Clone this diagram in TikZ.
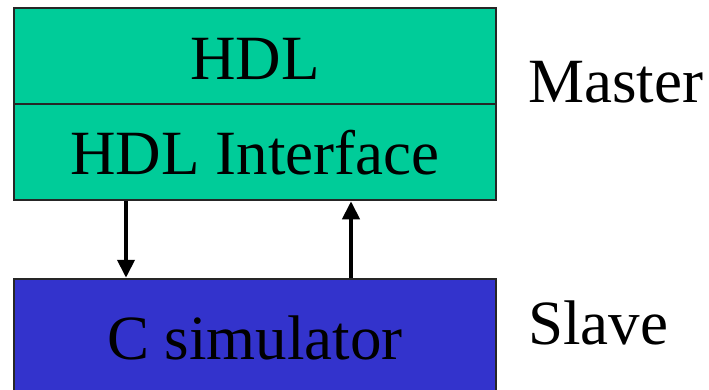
\documentclass[tikz,border=0pt]{standalone}
\usepackage{fontspec}
\setmainfont{Liberation Serif}
\usetikzlibrary{arrows.meta}
\definecolor{mgreen}{HTML}{00CC99}
\definecolor{sblue}{HTML}{3333CC}
\begin{document}
\begin{tikzpicture}[x=1pt,y=-1pt,
  box/.style={draw=black!85,line width=2.5pt,minimum width=482pt,inner sep=0pt,font=\fontsize{63}{63}\selectfont},
  lbl/.style={anchor=base west,inner sep=0pt,font=\fontsize{63}{63}\selectfont},
  arr/.style={line width=4pt,-{Triangle[length=18pt,width=17pt]}}]
\useasboundingbox (0,0) rectangle (709,390);
\node[box,fill=mgreen,minimum height=96pt] (hdl) at (255,56) {};
\node[box,fill=mgreen,minimum height=96pt] (iface) at (255,152) {};
\node[box,fill=sblue,minimum height=116pt] (sim) at (255,337) {};
\node[lbl,anchor=base] (t1) at (255,80) {HDL};
\node[lbl,anchor=base] (t2) at (255,175) {HDL Interface};
\node[lbl,anchor=base] (t3) at (255,359) {C simulator};
\node[lbl] (master) at (528,103) {Master};
\node[lbl] (slave) at (528,344) {Slave};
\coordinate (xl) at (126,0);
\coordinate (xr) at (351,0);
\draw[arr] (xl |- iface.south) -- (xl |- sim.north);
\draw[arr] (xr |- sim.north) -- (xr |- iface.south);
\end{tikzpicture}
\end{document}
